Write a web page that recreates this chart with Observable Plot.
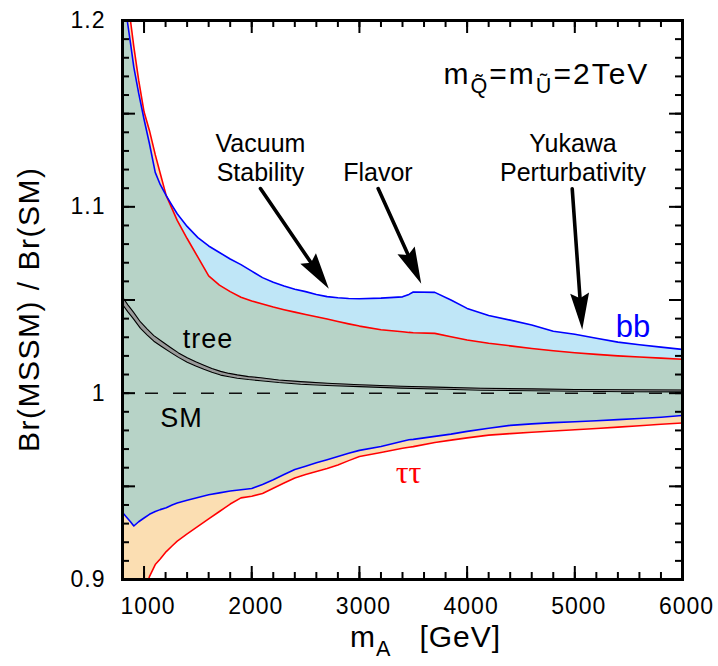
<!DOCTYPE html>
<html><head><meta charset="utf-8">
<script src="https://cdn.jsdelivr.net/npm/d3@7"></script>
<script src="https://cdn.jsdelivr.net/npm/@observablehq/plot@0.6"></script>
<style>body{margin:0;background:#fff}#chart svg{display:block}</style>
</head><body><div id="chart"></div>
<script>
// ---- data ----
const mA      = [800,844,874,905,950,1000,1050,1104,1150,1206,1260,1308,1400,1500,1600,1700,1800,1900,2000,2100,2200,2300,2400,2500,2600,2700,2800,2900,3000,3200,3400,3460,3500,3700,3850,4000,4200,4400,4600,4800,5000,5200,5400,5600,5800,6000];
const bbUpper = [1.218,1.200,1.188,1.175,1.161,1.147,1.134,1.1185,1.112,1.106,1.1008,1.0963,1.0895,1.0835,1.0790,1.0755,1.0720,1.0690,1.0655,1.0620,1.0595,1.0575,1.0558,1.0545,1.0530,1.0518,1.0512,1.0508,1.0507,1.0510,1.0517,1.0530,1.0543,1.0541,1.0500,1.0455,1.0417,1.0392,1.0366,1.0332,1.0316,1.0295,1.0274,1.0260,1.0247,1.0235];
const ttUpper = [1.232,1.213,1.200,1.186,1.168,1.151,1.141,1.128,1.118,1.106,1.099,1.0927,1.083,1.073,1.063,1.058,1.0545,1.0515,1.0495,1.0478,1.0462,1.0448,1.0435,1.0422,1.0410,1.0398,1.0385,1.0372,1.0360,1.0340,1.0330,1.0326,1.0324,1.0321,1.0303,1.0285,1.0268,1.0254,1.0240,1.0228,1.0217,1.0208,1.0200,1.0194,1.0188,1.0182];
const bbLower = [0.936,0.933,0.931,0.9287,0.931,0.933,0.935,0.9365,0.9375,0.9385,0.940,0.941,0.9425,0.944,0.9455,0.9465,0.9475,0.9482,0.9488,0.951,0.9535,0.9563,0.959,0.9608,0.9626,0.9643,0.966,0.9677,0.9693,0.9714,0.9742,0.975,0.9752,0.9768,0.978,0.9795,0.9812,0.9827,0.9835,0.9842,0.9847,0.9852,0.9858,0.9864,0.9871,0.988];
const ttLower = [0.862,0.870,0.875,0.880,0.887,0.894,0.9015,0.908,0.911,0.915,0.918,0.9206,0.9245,0.9285,0.9325,0.9365,0.9405,0.9438,0.9447,0.9462,0.949,0.9518,0.9545,0.9563,0.958,0.9596,0.9615,0.9638,0.966,0.9682,0.9704,0.971,0.9713,0.9735,0.9748,0.976,0.9775,0.9783,0.979,0.9797,0.9804,0.981,0.9818,0.9825,0.9833,0.984];

const treeX     = [800,850,900,967,1030,1091,1170,1246,1320,1401,1480,1556,1630,1711,1790,1866,1970,2082,2250,2454,2700,3000,3384,3800,4127,4600,5000,5500,6000];
const treeUpper = [1.0516,1.0474,1.0436,1.0382,1.0344,1.0309,1.0276,1.0245,1.0216,1.0190,1.0168,1.0150,1.0132,1.0117,1.0106,1.0098,1.0089,1.0083,1.0071,1.0062,1.0053,1.0045,1.0037,1.0031,1.0026,1.0023,1.0020,1.0018,1.0017];
const treeLower = [1.0476,1.0436,1.0400,1.0348,1.0312,1.0279,1.0248,1.0219,1.0192,1.0166,1.0146,1.0128,1.0112,1.0097,1.0088,1.0080,1.0073,1.0067,1.0057,1.0048,1.0041,1.0035,1.0027,1.0021,1.0016,1.0013,1.0010,1.0008,1.0007];

const smLevel = [1];

const xTicks = [1000,2000,3000,4000,5000,6000];
const xTickLabels = ["1000","2000","3000","4000","5000","6000"];
const yTicks = [0.9,1,1.1,1.2];
const yTickLabels = ["0.9","1","1.1","1.2"];
const xMajorTicks = [1000,2000,3000,4000,5000];
const yMajorTicks = [0.95,1.0,1.05,1.1,1.15];

const annText = ["Vacuum","Stability","Flavor","Yukawa","Perturbativity"];
const annX    = [2081,2081,3172,4983,4983];
const annY    = [1.1292,1.1141,1.1141,1.1293,1.1141];

const arrowX1 = [2081,3174,4976];
const arrowY1 = [1.1098,1.1098,1.1097];
const arrowX2 = [2716,3574,5069];
const arrowY2 = [1.0560,1.0587,1.0340];

const lblText = ["tree","SM"];
const lblX    = [1594,1348];
const lblY    = [1.0240,0.9817];

const titleText = "m_{Q\u0303}=m_{U\u0303}=2TeV";
const titleX = 3781, titleY = 1.1657;
const xTitle = "m_{A}\u00a0\u00a0\u00a0[GeV]";
const yTitle = "Br(MSSM) / Br(SM)";

// ---- layout ----
const W = 718, H = 666, ML = 122, MR = 36, MT = 20, MB = 87;
const X0 = 800, X1 = 6000, Y0 = 0.9, Y1 = 1.2;
const innerW = W - ML - MR, innerH = H - MT - MB;
const px = x => ML + (x - X0) / (X1 - X0) * innerW;
const py = y => MT + (Y1 - y) / (Y1 - Y0) * innerH;

const rows = mA.map((x, i) => ({x, bbUp: bbUpper[i], bbLo: bbLower[i], ttUp: ttUpper[i], ttLo: ttLower[i], both: Math.min(bbUpper[i], ttUpper[i])}));
const treeRows = treeX.map((x, i) => ({x, hi: treeUpper[i], lo: treeLower[i]}));
const annRows = annText.map((t, i) => ({t, x: annX[i], y: annY[i]}));
const lblRows = lblText.map((t, i) => ({t, x: lblX[i], y: lblY[i]}));
const arrowRows = arrowX1.map((x1, i) => ({
  x1, y1: arrowY1[i], x2: arrowX2[i], y2: arrowY2[i],
  angle: Math.atan2(px(arrowX2[i]) - px(x1), -(py(arrowY2[i]) - py(arrowY1[i]))) * 180 / Math.PI
}));

const headSymbol = {draw(ctx, size) {
  const r = Math.sqrt(size / Math.PI);
  const L = 3.5 * r, w = 0.9 * r;
  ctx.moveTo(0, 0); ctx.lineTo(-w, L); ctx.lineTo(0, 0.86 * L); ctx.lineTo(w, L); ctx.closePath();
}};

const xMinor = d3.range(1000, 6000, 200);
const yMinor = d3.range(91, 120, 1).map(d => d / 100);
const tk = {stroke: "#000", strokeWidth: 2};

const chart = Plot.plot({
  width: W, height: H, marginLeft: ML, marginRight: MR, marginTop: MT, marginBottom: MB,
  style: {fontFamily: "'Liberation Sans', Arial, Helvetica, sans-serif", background: "#fff", color: "#000"},
  x: {domain: [X0, X1]},
  y: {domain: [Y0, Y1]},
  marks: [
    Plot.areaY(rows, {x: "x", y1: "ttLo", y2: "ttUp", fill: "#fbdeb2", clip: true}),
    Plot.areaY(rows, {x: "x", y1: "bbLo", y2: "bbUp", fill: "#bfe6f7", clip: true}),
    Plot.areaY(rows, {x: "x", y1: "bbLo", y2: "both", fill: "#b7d3c7", clip: true}),
    Plot.ruleY(smLevel, {y: d => d, stroke: "#111", strokeWidth: 1.5, strokeDasharray: "13,15", strokeDashoffset: 5}),
    Plot.areaY(treeRows, {x: "x", y1: "lo", y2: "hi", fill: "#9a9a9a"}),
    Plot.line(treeRows, {x: "x", y: "hi", stroke: "#000", strokeWidth: 1.1}),
    Plot.line(treeRows, {x: "x", y: "lo", stroke: "#000", strokeWidth: 1.1}),
    Plot.line(rows, {x: "x", y: "ttUp", stroke: "#ff0000", strokeWidth: 1.6, clip: true}),
    Plot.line(rows, {x: "x", y: "ttLo", stroke: "#ff0000", strokeWidth: 1.6, clip: true}),
    Plot.line(rows, {x: "x", y: "bbUp", stroke: "#0000ff", strokeWidth: 1.6, clip: true}),
    Plot.line(rows, {x: "x", y: "bbLo", stroke: "#0000ff", strokeWidth: 1.6, clip: true}),
    // inward ticks on all four sides
    Plot.ruleX(xMinor, {x: d => d, insetTop: innerH - 7, ...tk}),
    Plot.ruleX(xMinor, {x: d => d, insetBottom: innerH - 7, ...tk}),
    Plot.ruleX(xMajorTicks, {x: d => d, insetTop: innerH - 13, ...tk}),
    Plot.ruleX(xMajorTicks, {x: d => d, insetBottom: innerH - 13, ...tk}),
    Plot.ruleY(yMinor, {y: d => d, insetRight: innerW - 7, ...tk}),
    Plot.ruleY(yMinor, {y: d => d, insetLeft: innerW - 7, ...tk}),
    Plot.ruleY(yMajorTicks, {y: d => d, insetRight: innerW - 13, ...tk}),
    Plot.ruleY(yMajorTicks, {y: d => d, insetLeft: innerW - 13, ...tk}),
    Plot.frame({stroke: "#000", strokeWidth: 3}),
    Plot.axisX(xTicks, {anchor: "bottom", tickSize: 0, tickPadding: 18, fontSize: 23, dx: 4, label: null,
      tickFormat: d => xTickLabels[xTicks.indexOf(d)]}),
    Plot.axisY(yTicks, {anchor: "left", tickSize: 0, tickPadding: 17, fontSize: 23, label: null,
      tickFormat: d => yTickLabels[yTicks.indexOf(d)]}),
    // annotations
    Plot.text(annRows, {x: "x", y: "y", text: "t", fontSize: 25, textAnchor: "middle", lineAnchor: "bottom"}),
    Plot.text(lblRows, {x: "x", y: "y", text: "t", fontSize: 27, textAnchor: "middle", lineAnchor: "bottom"}),
    Plot.text(["bb"], {x: 5540, y: 1.030, fill: "#0000ff", fontSize: 31, textAnchor: "middle", lineAnchor: "bottom"}),
    Plot.text(["\u03c4\u03c4"], {x: 3456, y: 0.9518, fill: "#ff0000", fontSize: 32, fontFamily: "'Liberation Serif', 'Times New Roman', serif", textAnchor: "middle", lineAnchor: "bottom"}),
    Plot.text([titleText], {x: titleX, y: titleY, fontSize: 30, textAnchor: "start", lineAnchor: "bottom"}),
    Plot.arrow(arrowRows, {x1: "x1", y1: "y1", x2: "x2", y2: "y2", stroke: "#000", strokeWidth: 3.6, headLength: 0, insetEnd: 20}),
    Plot.dot(arrowRows, {x: "x2", y: "y2", r: 10.5, symbol: headSymbol, rotate: "angle", fill: "#000", stroke: "none"}),
    // axis titles
    Plot.text([xTitle], {frameAnchor: "bottom", x: 3614, dy: 67, fontSize: 30, textAnchor: "middle", lineAnchor: "bottom"}),
    Plot.text([yTitle], {frameAnchor: "left", y: 1.045, dx: -93, rotate: -90, fontSize: 30, textAnchor: "middle", lineAnchor: "middle"})
  ]
});

document.getElementById("chart").appendChild(chart);

// letter spacing for tick labels
chart.querySelectorAll('g[aria-label="x-axis tick label"] text, g[aria-label="y-axis tick label"] text')
  .forEach(t => t.setAttribute("letter-spacing", "1"));

// subscripts
function richify(el, fs) {
  const s = el.textContent;
  el.textContent = "";
  const parts = s.split(/_\{([^}]*)\}/);
  let down = false;
  parts.forEach((p, i) => {
    if (!p) return;
    const ts = document.createElementNS("http://www.w3.org/2000/svg", "tspan");
    const isSub = i % 2 === 1;
    if (isSub && !down) { ts.setAttribute("dy", 0.3 * fs); down = true; }
    else if (!isSub && down) { ts.setAttribute("dy", -0.3 * fs); down = false; }
    if (isSub) ts.setAttribute("font-size", 0.72 * fs);
    ts.textContent = p;
    el.appendChild(ts);
  });
}
chart.querySelectorAll("text").forEach(el => {
  if (el.textContent === titleText) { richify(el, 30); el.setAttribute("letter-spacing", "2"); }
  else if (el.textContent === xTitle) { richify(el, 30); el.setAttribute("letter-spacing", "1"); }
  else if (el.textContent === yTitle) { el.setAttribute("letter-spacing", "1.5"); }
  else if (el.textContent === "tree" || el.textContent === "SM") { el.setAttribute("letter-spacing", "1"); }
});
</script>
</body></html>
